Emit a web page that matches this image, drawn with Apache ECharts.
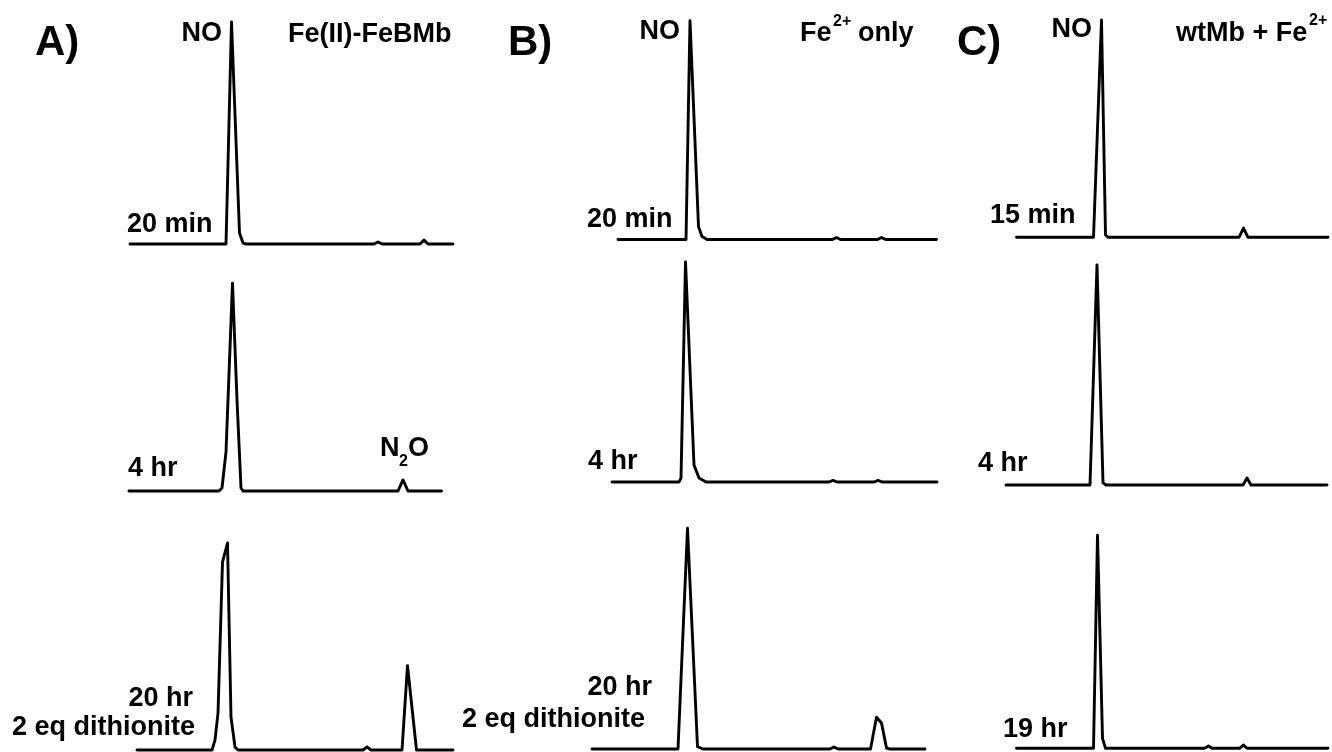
<!DOCTYPE html>
<html>
<head>
<meta charset="utf-8">
<title>GC traces</title>
<script src="https://cdn.jsdelivr.net/npm/echarts@6/dist/echarts.min.js"></script>
<style>
  html, body { margin: 0; padding: 0; background: #fff; }
  #chart { width: 1332px; height: 752px; }
</style>
</head>
<body>
<div id="chart"></div>
<script>
// [retention time (min), signal (a.u.)]
var traceA_20min = [[0.10,0],[2.02,0],[2.06,0.3],[2.13,96.5],[2.29,4.8],[2.36,0.4],[2.42,0],[4.98,0],[5.06,0.9],[5.14,0],[5.90,0],[5.98,1.7],[6.06,0],[6.56,0]];
var traceA_4hr = [[0.08,0],[1.88,0],[1.94,1.3],[2.02,17],[2.15,90.4],[2.24,39.6],[2.32,1.3],[2.36,0],[5.46,0],[5.56,4.8],[5.66,0],[6.33,0]];
var traceA_20hr = [[0.24,0],[1.74,0],[1.80,4.3],[1.86,16],[1.95,81.7],[2.05,90],[2.12,14.3],[2.20,1.3],[2.26,0],[4.76,0],[4.84,1.3],[4.92,0],[5.54,0],[5.65,36.7],[5.83,0],[6.56,0]];

var traceB_20min = [[0.66,0],[2.02,0],[2.10,95.1],[2.27,5.6],[2.34,1.3],[2.44,0],[4.95,0],[5.03,0.9],[5.11,0],[5.85,0],[5.93,0.9],[6.01,0],[7.03,0]];
var traceB_4hr = [[0.54,0],[1.88,0],[1.92,1.7],[2.01,95.7],[2.18,7.4],[2.28,1.7],[2.42,0],[4.88,0],[4.96,0.7],[5.04,0],[5.78,0],[5.86,0.7],[5.94,0],[7.04,0]];
var traceB_20hr = [[0.14,0],[1.86,0],[2.05,96],[2.25,1],[2.36,0],[4.90,0],[4.98,0.9],[5.06,0],[5.71,0],[5.83,13.8],[5.93,11.3],[6.03,0.4],[6.10,0],[6.80,0]];

var traceC_15min = [[0.33,0],[1.87,0],[2.03,94.5],[2.11,1],[2.16,0],[4.78,0],[4.87,4],[4.96,0],[6.56,0]];
var traceC_4hr = [[0.12,0],[1.80,0],[1.94,95.7],[2.06,0.9],[2.12,0],[4.86,0],[4.94,3],[5.02,0],[6.54,0]];
var traceC_19hr = [[0.33,0],[1.87,0],[1.95,92.7],[2.05,4.3],[2.11,0],[4.09,0],[4.17,1],[4.24,0],[4.79,0],[4.87,1.4],[4.94,0],[6.56,0]];

var traces = [
  [traceA_20min, traceA_4hr, traceA_20hr],
  [traceB_20min, traceB_4hr, traceB_20hr],
  [traceC_15min, traceC_4hr, traceC_19hr]
];

// layout: panel x extents and trace baselines (px)
var panels = [
  { left: 125, width: 335, tmax: 6.7, baselines: [244, 491, 750] },
  { left: 585, width: 355, tmax: 7.1, baselines: [239.5, 482, 749] },
  { left: 1000, width: 332, tmax: 6.64, baselines: [237.3, 485, 748.3] }
];
var traceHeight = 230;

var grids = [], xAxes = [], yAxes = [], series = [];
panels.forEach(function (p, i) {
  p.baselines.forEach(function (b, j) {
    var k = grids.length;
    grids.push({ left: p.left, width: p.width, top: b - traceHeight, height: traceHeight, outerBoundsMode: 'none' });
    xAxes.push({ gridIndex: k, type: 'value', min: 0, max: p.tmax, show: false });
    yAxes.push({ gridIndex: k, type: 'value', min: 0, max: 100, show: false });
    series.push({
      type: 'line',
      xAxisIndex: k,
      yAxisIndex: k,
      data: traces[i][j],
      symbol: 'none',
      clip: false,
      silent: true,
      lineStyle: { color: '#000', width: 2.9, join: 'round', cap: 'round' }
    });
  });
});

var FONT = '"Liberation Sans", Arial, sans-serif';
function label(text, x, y, size, align) {
  return {
    type: 'text',
    x: x,
    y: y,
    style: {
      text: text,
      fill: '#000',
      fontSize: size,
      fontWeight: 'bold',
      fontFamily: FONT,
      textAlign: align || 'left',
      textVerticalAlign: 'middle'
    }
  };
}

var texts = [
  label('A)', 35, 43.5, 42),
  label('B)', 508, 43, 42),
  label('C)', 957, 43, 42),
  label('NO', 222, 34, 27, 'right'),
  label('NO', 680, 32, 27, 'right'),
  label('NO', 1092, 30, 27, 'right'),
  label('Fe(II)-FeBMb', 288, 34.5, 27),
  label('Fe', 800, 34, 27),
  label('2+', 833, 22, 16),
  label('only', 858, 34, 27),
  label('wtMb + Fe', 1176, 34, 27),
  label('2+', 1309, 21, 16),
  label('20 min', 127, 225, 27),
  label('4 hr', 128, 469, 27),
  label('N', 380, 448.5, 27),
  label('2', 399, 462, 16),
  label('O', 408, 448.5, 27),
  label('20 hr', 193, 699, 27, 'right'),
  label('2 eq dithionite', 12, 728, 27),
  label('20 min', 587, 220, 27),
  label('4 hr', 588, 462, 27),
  label('20 hr', 652, 688, 27, 'right'),
  label('2 eq dithionite', 462, 720, 27),
  label('15 min', 990, 216, 27),
  label('4 hr', 978, 464, 27),
  label('19 hr', 1003, 730, 27)
];

var chart = echarts.init(document.getElementById('chart'));
chart.setOption({
  backgroundColor: '#fff',
  animation: false,
  grid: grids,
  xAxis: xAxes,
  yAxis: yAxes,
  series: series,
  graphic: texts
});
</script>
</body>
</html>
